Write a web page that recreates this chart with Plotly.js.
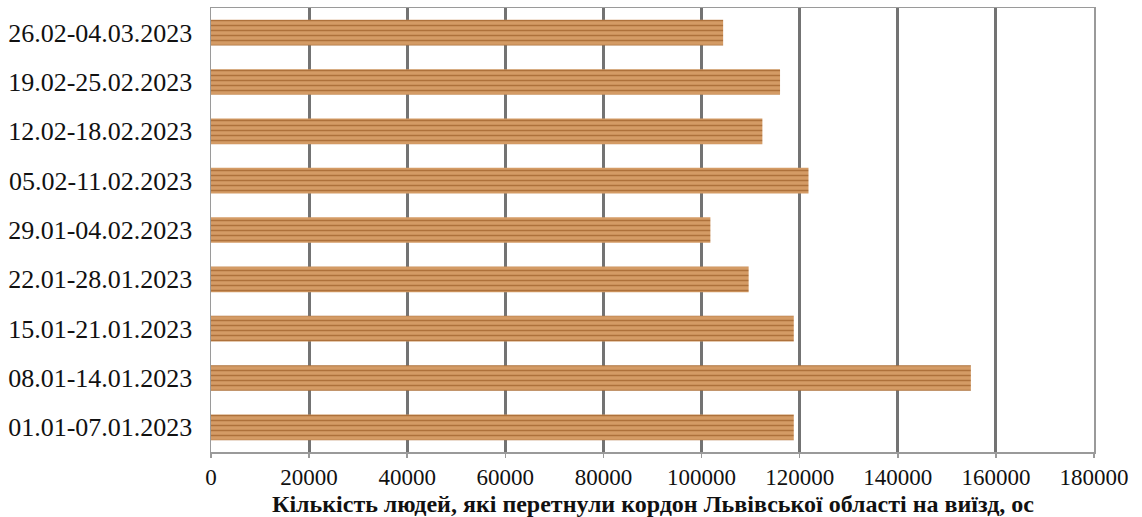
<!DOCTYPE html>
<html>
<head>
<meta charset="utf-8">
<script src="https://cdn.plot.ly/plotly-3.0.1.min.js"></script>
<style>html,body{margin:0;padding:0;background:#fff;}#chart{width:1142px;height:517px;}</style>
</head>
<body>
<div id="chart"></div>
<script>
const weeks = [
  "01.01-07.01.2023",
  "08.01-14.01.2023",
  "15.01-21.01.2023",
  "22.01-28.01.2023",
  "29.01-04.02.2023",
  "05.02-11.02.2023",
  "12.02-18.02.2023",
  "19.02-25.02.2023",
  "26.02-04.03.2023"
];
const people = [118800, 154900, 118800, 109600, 101800, 121800, 112400, 116000, 104400];
const xTicks = [0, 20000, 40000, 60000, 80000, 100000, 120000, 140000, 160000, 180000];
const xTitle = "Кількість людей, які перетнули кордон Львівської області на виїзд, ос";

const trace = {
  type: "bar",
  orientation: "h",
  y: weeks,
  x: people,
  width: 0.52,
  marker: {
    color: "#CD915B",
    line: {width: 0},
    pattern: {shape: "-", fgcolor: "#AE713B", bgcolor: "#D49B65", size: 5, solidity: 0.3}
  },
  hoverinfo: "x+y"
};

const layout = {
  width: 1142, height: 517,
  margin: {l: 211, r: 48, t: 8, b: 65},
  paper_bgcolor: "#ffffff",
  plot_bgcolor: "#ffffff",
  showlegend: false,
  font: {family: "Liberation Serif, Times New Roman, serif", color: "#111", size: 25},
  xaxis: {
    range: [0, 180000],
    tickvals: xTicks,
    tickformat: "d",
    showgrid: true, gridcolor: "#737373", gridwidth: 2.8,
    zeroline: false,
    showline: true, linecolor: "#9a9a9a", linewidth: 1.5, mirror: true,
    ticks: "outside", ticklen: 4, tickcolor: "#9a9a9a", tickwidth: 1.5,
    tickfont: {size: 23},
    ticklabelstandoff: 0,
    fixedrange: true
  },
  yaxis: {
    type: "category",
    categoryorder: "array", categoryarray: weeks,
    showgrid: false, zeroline: false,
    showline: true, linecolor: "#9a9a9a", linewidth: 1.5, mirror: true,
    ticks: "", tickfont: {size: 26},
    ticklabelstandoff: 12,
    fixedrange: true
  },
  bargap: 0.48,
  annotations: [{
    text: "<b>" + xTitle + "</b>",
    xref: "paper", yref: "paper",
    x: 0.5, y: -0.117, xanchor: "center", yanchor: "middle",
    showarrow: false,
    font: {size: 24, family: "Liberation Serif, Times New Roman, serif", color: "#111"}
  }]
};

Plotly.newPlot("chart", [trace], layout, {displayModeBar: false, staticPlot: true});
</script>
</body>
</html>
